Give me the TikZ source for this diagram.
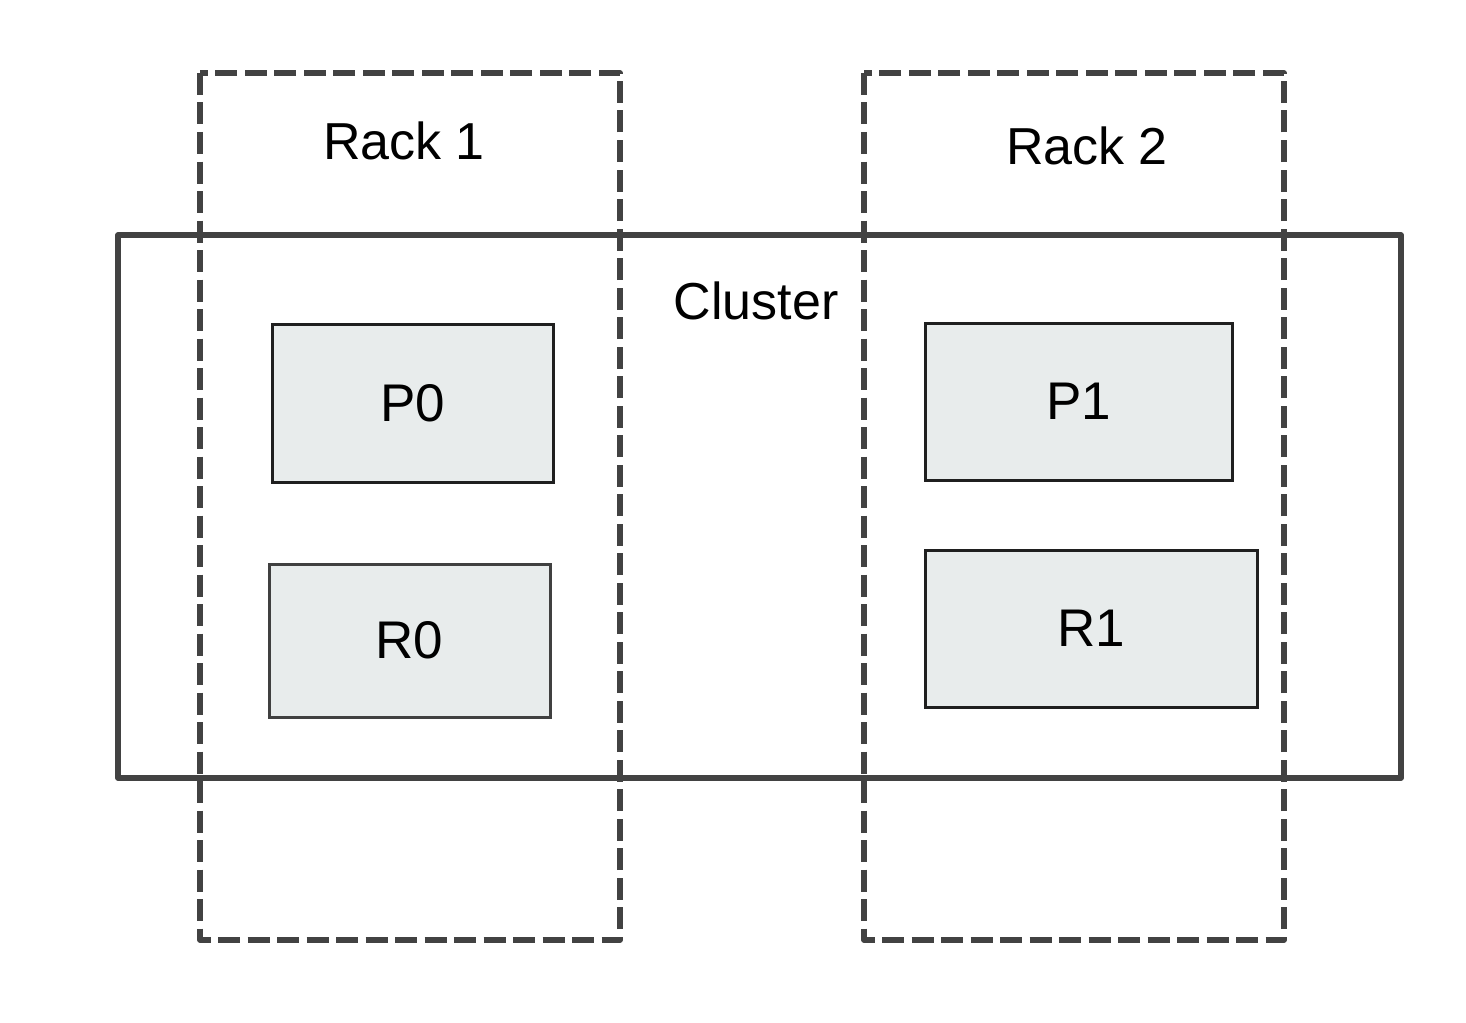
\documentclass[tikz,border=0pt]{standalone}
\usepackage{fontspec}
\setmainfont{Liberation Sans}
\begin{document}
\begin{tikzpicture}[x=1pt,y=-1pt,
  rackbox/.style={draw=black!74, line width=5.5pt, dash pattern=on 22pt off 7.5pt, line join=round},
  clusterbox/.style={draw=black!74, line width=5.5pt, line join=round},
  partbox/.style={draw=black!88, line width=3pt, fill={rgb,255:red,232;green,236;blue,236}, font=\fontsize{53}{60}\selectfont},
  lbl/.style={font=\fontsize{52}{60}\selectfont, inner sep=0pt}]
\useasboundingbox (0,0) rectangle (1466,1022);
\draw[clusterbox] (118,235) rectangle (1401,778);
\draw[rackbox] (200,73) rectangle (620,940);
\draw[rackbox] (864,73) rectangle (1284,940);
\node[lbl] (rack1) at (404,141) {Rack 1};
\node[lbl] (rack2) at (1087,146) {Rack 2};
\node[lbl] (cluster) at (756,301) {Cluster};
\node[partbox, minimum width=281pt, minimum height=158pt] (p0) at (412.5,403) {P0};
\node[partbox, draw=black!75, minimum width=281pt, minimum height=153pt] (r0) at (409.5,640.5) {R0};
\node[partbox, minimum width=307pt, minimum height=157pt] (p1) at (1078.5,401.5) {P1};
\node[partbox, minimum width=332pt, minimum height=157pt] (r1) at (1091,628.5) {R1};
\end{tikzpicture}
\end{document}
